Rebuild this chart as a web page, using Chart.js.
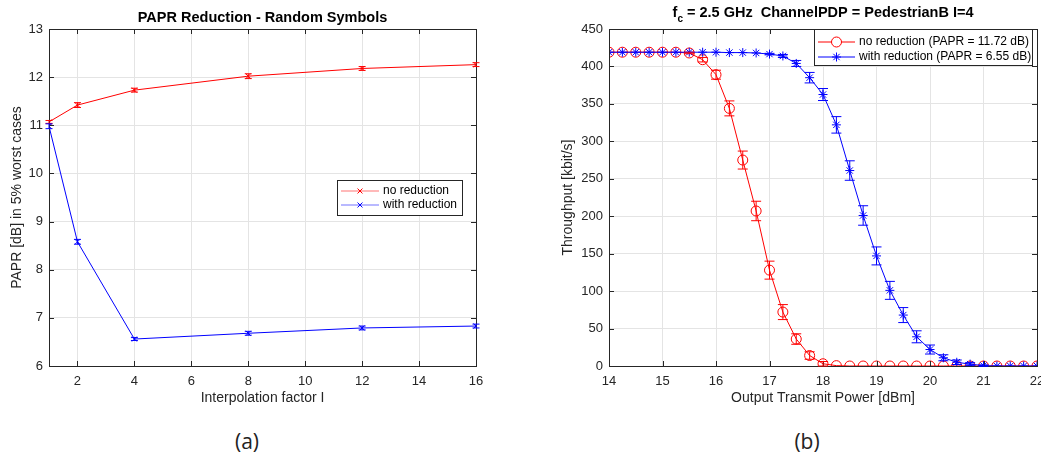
<!DOCTYPE html>
<html lang="en">
  <head>
    <meta charset="UTF-8" />
    <title>PAPR reduction</title>
    <script src="https://cdn.jsdelivr.net/npm/chart.js"></script>
    <style>
      html,
      body {
        margin: 0;
        padding: 0;
        background: #fff;
        width: 1041px;
        height: 460px;
        overflow: hidden;
        position: relative;
      }
      canvas {
        position: absolute;
        top: 0;
      }
      #chartA {
        left: 0;
      }
      #chartB {
        left: 530px;
      }
      .caption {
        position: absolute;
        top: 427px;
        width: 80px;
        text-align: center;
        font-family: "Open Sans", sans-serif;
        font-size: 21px;
        color: #222;
      }
    </style>
  </head>
  <body>
    <canvas id="chartA" width="500" height="420"></canvas>
    <canvas id="chartB" width="530" height="420"></canvas>
    <div class="caption" style="left: 207px">(a)</div>
    <div class="caption" style="left: 767px">(b)</div>

    <script>
      // (a) PAPR vs interpolation factor
      const interp = [1, 2, 4, 8, 12, 16];
      const paprNoRed = [11.07, 11.42, 11.73, 12.02, 12.18, 12.26];
      const paprNoRedErr = [0.03, 0.05, 0.04, 0.05, 0.04, 0.04];
      const paprRed = [10.98, 8.58, 6.56, 6.68, 6.79, 6.83];
      const paprRedErr = [0.05, 0.05, 0.03, 0.04, 0.04, 0.04];
      const interpTicks = [2, 4, 6, 8, 10, 12, 14, 16];
      const paprTicks = [6, 7, 8, 9, 10, 11, 12, 13];

      // (b) throughput vs output power (14 .. 22 dBm, 0.25 dB steps)
      const power = [
        14, 14.25, 14.5, 14.75, 15, 15.25, 15.5, 15.75, 16, 16.25, 16.5, 16.75,
        17, 17.25, 17.5, 17.75, 18, 18.25, 18.5, 18.75, 19, 19.25, 19.5, 19.75,
        20, 20.25, 20.5, 20.75, 21, 21.25, 21.5, 21.75, 22,
      ];
      const thrNoRed = [
        419, 419, 419, 419, 419, 419, 418, 409, 389, 344, 275, 207,
        128, 72, 36, 14, 3, 0.5, 0, 0, 0, 0, 0, 0,
        0, 0, 0, 0, 0, 0, 0, 0, 0,
      ];
      const thrNoRedErr = [
        0, 0, 0, 0, 0, 0, 1, 3, 6, 10, 12, 13,
        12, 10, 7, 5, 3, 0, 0, 0, 0, 0, 0, 0,
        0, 0, 0, 0, 0, 0, 0, 0, 0,
      ];
      const thrRed = [
        419, 419, 419, 419, 419, 419, 419, 419, 419, 418.5, 418.5, 418,
        416.5, 414, 404, 385, 362.5, 322, 261, 201, 147, 101, 68, 39,
        22, 11, 5, 2.5, 0.5, 0, 0, 0, 0,
      ];
      const thrRedErr = [
        0, 0, 0, 0, 0, 0, 0, 0, 0, 0, 0, 0,
        1, 2, 4, 7, 8, 11, 13, 13, 12, 12, 10, 8,
        6, 4, 3, 2, 1, 0, 0, 0, 0,
      ];
      const powerTicks = [14, 15, 16, 17, 18, 19, 20, 21, 22];
      const thrTicks = [0, 50, 100, 150, 200, 250, 300, 350, 400, 450];

      const RED = "#ff0000";
      const BLUE = "#0000ff";
      const AXIS = "#262626";
      const GRID = "#e4e4e4";
      const FONT = "'Liberation Sans', Arial, sans-serif";

      const pts = (xs, ys) => xs.map((x, i) => ({ x: x, y: ys[i] }));

      // matlab style box: frame on all sides + inward tick marks
      const boxPlugin = {
        id: "box",
        afterDatasetsDraw(chart) {
          const { ctx, chartArea: a, scales } = chart;
          const len = 5;
          ctx.save();
          ctx.strokeStyle = AXIS;
          ctx.lineWidth = 1;
          ctx.beginPath();
          scales.x.ticks.forEach((t) => {
            const px = Math.round(scales.x.getPixelForValue(t.value)) + 0.5;
            ctx.moveTo(px, a.bottom);
            ctx.lineTo(px, a.bottom - len);
            ctx.moveTo(px, a.top);
            ctx.lineTo(px, a.top + len);
          });
          scales.y.ticks.forEach((t) => {
            const py = Math.round(scales.y.getPixelForValue(t.value)) + 0.5;
            ctx.moveTo(a.left, py);
            ctx.lineTo(a.left + len, py);
            ctx.moveTo(a.right, py);
            ctx.lineTo(a.right - len, py);
          });
          ctx.stroke();
          ctx.strokeRect(
            Math.round(a.left) + 0.5,
            Math.round(a.top) + 0.5,
            Math.round(a.right - a.left),
            Math.round(a.bottom - a.top)
          );
          ctx.restore();
        },
      };

      // vertical error bars with caps, placed through the chart scales
      const errorBarPlugin = {
        id: "errorBars",
        afterDatasetsDraw(chart, args, opts) {
          const { ctx, scales } = chart;
          ctx.save();
          ctx.lineWidth = 1;
          chart.data.datasets.forEach((ds) => {
            if (!ds.errors) return;
            ctx.strokeStyle = ds.borderColor;
            ctx.beginPath();
            ds.data.forEach((p, i) => {
              const e = ds.errors[i];
              if (!e) return;
              const px = scales.x.getPixelForValue(p.x);
              const y1 = scales.y.getPixelForValue(p.y - e);
              const y2 = scales.y.getPixelForValue(p.y + e);
              const c = opts.cap;
              ctx.moveTo(px, y1);
              ctx.lineTo(px, y2);
              ctx.moveTo(px - c, y1);
              ctx.lineTo(px + c, y1);
              ctx.moveTo(px - c, y2);
              ctx.lineTo(px + c, y2);
            });
            ctx.stroke();
          });
          ctx.restore();
        },
      };

      // legend box drawn inside the axes
      const boxLegendPlugin = {
        id: "boxLegend",
        afterDraw(chart, args, o) {
          const ctx = chart.ctx;
          ctx.save();
          ctx.fillStyle = "#fff";
          ctx.fillRect(o.x, o.y, o.w, o.h);
          ctx.strokeStyle = AXIS;
          ctx.lineWidth = 1;
          ctx.strokeRect(o.x + 0.5, o.y + 0.5, o.w, o.h);
          ctx.font = "12px " + FONT;
          ctx.textBaseline = "middle";
          ctx.textAlign = "left";
          o.items.forEach((di, k) => {
            const ds = chart.data.datasets[di];
            const y = o.y + o.row0 + k * o.rowStep;
            ctx.globalAlpha = o.lineAlpha;
            ctx.strokeStyle = ds.borderColor;
            ctx.beginPath();
            ctx.moveTo(o.x + 4, y);
            ctx.lineTo(o.x + 4 + o.lineLen, y);
            ctx.stroke();
            ctx.globalAlpha = 1;
            Chart.helpers.drawPoint(
              ctx,
              {
                pointStyle: ds.pointStyle,
                radius: ds.pointRadius,
                rotation: 0,
                borderWidth: 1,
              },
              o.x + 4 + o.lineLen / 2,
              y
            );
            ctx.fillStyle = "#000";
            ctx.fillText(ds.label, o.x + 8 + o.lineLen, y);
          });
          ctx.restore();
        },
      };

      // bold title, with an optional subscript after the first part
      const subTitlePlugin = {
        id: "subTitle",
        afterDraw(chart, args, o) {
          const ctx = chart.ctx;
          const a = chart.chartArea;
          const big = "bold " + o.size + "px " + FONT;
          const small = "bold 10px " + FONT;
          ctx.save();
          ctx.fillStyle = "#000";
          ctx.textBaseline = "alphabetic";
          ctx.font = big;
          const w1 = ctx.measureText(o.main).width;
          const w3 = ctx.measureText(o.rest || "").width;
          ctx.font = small;
          const w2 = o.sub ? ctx.measureText(o.sub).width : 0;
          let x = (a.left + a.right) / 2 - (w1 + w2 + w3) / 2;
          ctx.font = big;
          ctx.fillText(o.main, x, o.y);
          x += w1;
          if (o.sub) {
            ctx.font = small;
            ctx.fillText(o.sub, x, o.y + 5);
            x += w2;
            ctx.font = big;
            ctx.fillText(o.rest, x, o.y);
          }
          ctx.restore();
        },
      };

      function axisOptions(min, max, ticks, title, titlePad, isX, width) {
        return {
          type: "linear",
          min: min,
          max: max,
          afterBuildTicks: (s) => {
            s.ticks = ticks.map((v) => ({ value: v }));
          },
          afterFit: (s) => {
            if (isX) s.height = width;
            else s.width = width;
          },
          grid: { color: GRID, drawTicks: false },
          border: { display: false },
          ticks: {
            color: AXIS,
            padding: isX ? 8 : 6,
            autoSkip: false,
            maxRotation: 0,
            font: { family: FONT, size: 13 },
          },
          title: {
            display: true,
            text: title,
            color: AXIS,
            font: { family: FONT, size: 14 },
            padding: titlePad,
          },
        };
      }

      function drawChart(id, datasets, scales, extra) {
        return new Chart(document.getElementById(id), {
          type: "line",
          data: { datasets: datasets },
          options: {
            responsive: false,
            animation: false,
            layout: { padding: { top: 29, right: extra.rightPad, left: 0, bottom: 0 } },
            elements: { line: { tension: 0, borderWidth: 1 } },
            scales: scales,
            plugins: {
              legend: { display: false },
              tooltip: { enabled: false },
              errorBars: { cap: extra.cap },
              boxLegend: extra.legend,
              subTitle: extra.title,
            },
          },
          plugins: [boxPlugin, errorBarPlugin, boxLegendPlugin, subTitlePlugin],
        });
      }

      const lineSet = (label, xs, ys, errs, color, style, r, order) => ({
        label: label,
        data: pts(xs, ys),
        errors: errs,
        borderColor: color,
        backgroundColor: "rgba(0,0,0,0)",
        pointBorderColor: color,
        pointBackgroundColor: "rgba(0,0,0,0)",
        pointStyle: style,
        pointRadius: r,
        pointBorderWidth: 1,
        borderWidth: 1,
        order: order,
      });

      drawChart(
        "chartA",
        [
          lineSet("no reduction", interp, paprNoRed, paprNoRedErr, RED, "crossRot", 3.5, 1),
          lineSet("with reduction", interp, paprRed, paprRedErr, BLUE, "crossRot", 3.5, 2),
        ],
        {
          x: axisOptions(1, 16, interpTicks, "Interpolation factor I", { top: 0, bottom: 13 }, true, 54),
          y: axisOptions(6, 13, paprTicks, "PAPR [dB] in 5% worst cases", { top: 9, bottom: 0 }, false, 49),
        },
        {
          rightPad: 24,
          cap: 3.5,
          legend: { x: 337, y: 180, w: 125, h: 35, row0: 11, rowStep: 14, lineLen: 38, lineAlpha: 0.55, items: [0, 1] },
          title: { main: "PAPR Reduction - Random Symbols", size: 14.5, y: 22 },
        }
      );

      drawChart(
        "chartB",
        [
          lineSet("no reduction (PAPR = 11.72 dB)", power, thrNoRed, thrNoRedErr, RED, "circle", 5, 2),
          lineSet("with reduction (PAPR = 6.55 dB)", power, thrRed, thrRedErr, BLUE, "star", 4.5, 1),
        ],
        {
          x: axisOptions(14, 22, powerTicks, "Output Transmit Power [dBm]", { top: 0, bottom: 13 }, true, 54),
          y: axisOptions(0, 450, thrTicks, "Throughput [kbit/s]", { top: 30, bottom: 0 }, false, 79),
        },
        {
          rightPad: 23,
          cap: 5,
          legend: { x: 284, y: 29, w: 218, h: 36, row0: 13, rowStep: 15, lineLen: 37, lineAlpha: 1, items: [0, 1] },
          title: { main: "f", sub: "c", rest: " = 2.5 GHz  ChannelPDP = PedestrianB I=4", size: 14.5, y: 17 },
        }
      );
    </script>
  </body>
</html>
